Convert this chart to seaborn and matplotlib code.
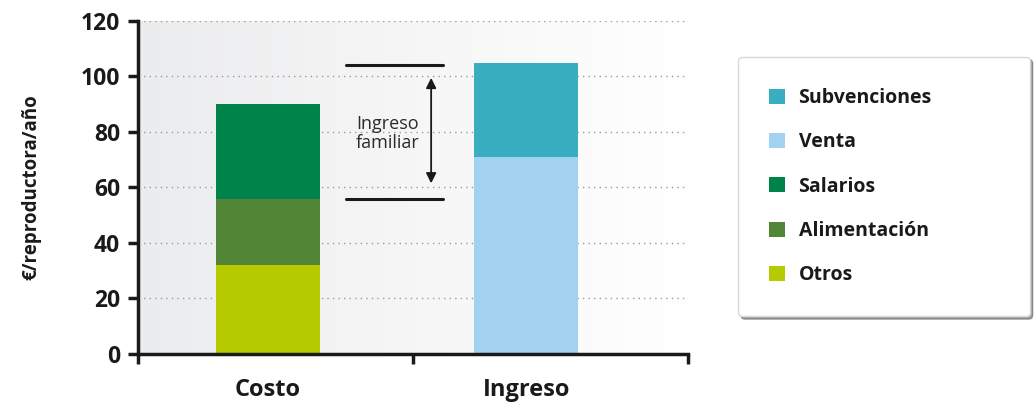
import numpy as np
import pandas as pd
import matplotlib.pyplot as plt
import seaborn as sns
from matplotlib.colors import LinearSegmentedColormap
from matplotlib.patches import Patch

# data
categories = ["Costo", "Ingreso"]
costo_labels = ["Otros", "Alimentación", "Salarios"]
costo_values = [32, 24, 34]
ingreso_labels = ["Venta", "Subvenciones"]
ingreso_values = [71, 34]
familiar_low = 56
familiar_high = 104
y_ticks = [0, 20, 40, 60, 80, 100, 120]

colors = {"Otros": "#b5cb00", "Alimentación": "#528636", "Salarios": "#00834a",
          "Venta": "#a3d2f1", "Subvenciones": "#38aec0"}
legend_order = ["Subvenciones", "Venta", "Salarios", "Alimentación", "Otros"]

sns.set_style("white")
plt.rcParams["font.family"] = ["Open Sans", "DejaVu Sans"]

fig = plt.figure(figsize=(10.34, 4.09), dpi=100)
ax = fig.add_axes([0.1335, 0.1345, 0.532, 0.8142])

xmin, xmax = -0.504, 1.628

# light grey-to-white background
bg = LinearSegmentedColormap.from_list("bg", ["#ebecee", "#f6f6f6", "#ffffff"])
ax.imshow(np.linspace(0, 1, 256)[None, :], cmap=bg, aspect="auto",
          extent=[xmin, xmax, 0, 120], zorder=0)

for yv in y_ticks[1:]:
    ax.axhline(yv, color="#9a9a9a", lw=1, ls=(0, (1, 3)), zorder=1)

# stacked bars drawn as cumulative layers, tallest first
stacks = [("Costo", costo_labels, costo_values), ("Ingreso", ingreso_labels, ingreso_values)]
for cat, labs, vals in stacks:
    cum = np.cumsum(vals)
    for lab, top in reversed(list(zip(labs, cum))):
        df = pd.DataFrame({"cat": [cat], "val": [top]})
        sns.barplot(data=df, x="cat", y="val", order=categories, color=colors[lab],
                    saturation=1, width=0.403, linewidth=0, ax=ax, zorder=2)

# ingreso familiar marker
ax.plot([0.302, 0.678], [familiar_high, familiar_high], color="#1a1a1a", lw=2.2, zorder=3)
ax.plot([0.302, 0.678], [familiar_low, familiar_low], color="#1a1a1a", lw=2.2, zorder=3)
ax.annotate("", xy=(0.632, familiar_high - 3.5), xytext=(0.632, familiar_low + 4.5),
            arrowprops=dict(arrowstyle="<|-|>", color="#1a1a1a", lw=1.3,
                            mutation_scale=15), zorder=3)
ax.text(0.465, 79.5, "Ingreso\nfamiliar", ha="center", va="center", fontsize=13,
        color="#2a2a2a", linespacing=1.05, zorder=3)

ax.set_xlim(xmin, xmax)
ax.set_ylim(0, 120)
ax.set_yticks(y_ticks)
ax.set_yticklabels([str(v) for v in y_ticks], fontsize=16.5, fontweight="bold", color="#1a1a1a")
ax.set_xticks([xmin, (xmin + xmax) / 2, xmax])
ax.set_xticklabels(["", "", ""])
for i, c in enumerate(categories):
    ax.text(i, -8.5, c, ha="center", va="top", fontsize=17, fontweight="bold",
            color="#1a1a1a", transform=ax.transData)
ax.set_xlabel("")
ax.set_ylabel("€/reproductora/año", fontsize=13.5, fontweight="bold", color="#1a1a1a")
ax.yaxis.set_label_coords(-0.175, 0.5)

sns.despine(ax=ax)
for s in ["left", "bottom"]:
    ax.spines[s].set_linewidth(2.5)
    ax.spines[s].set_color("#1a1a1a")
    ax.spines[s].set_zorder(4)
ax.tick_params(axis="both", direction="out", length=7, width=2.5, color="#1a1a1a",
               left=True, bottom=True)
ax.tick_params(axis="y", pad=6)

handles = [Patch(facecolor=colors[k], edgecolor="none", label=k) for k in legend_order]
leg = fig.legend(handles=handles, loc="upper left",
                 bbox_to_anchor=(0.714, 0.2225, 0.282, 0.6385), mode="expand",
                 frameon=True, fancybox=True, shadow=True, fontsize=14,
                 handlelength=0.8, handleheight=0.8, handletextpad=0.7,
                 labelspacing=1.25, borderpad=1.6, borderaxespad=0)
leg.get_frame().set_edgecolor("#d8d8d8")
for t in leg.get_texts():
    t.set_fontweight("bold")
    t.set_color("#1a1a1a")

fig.savefig("out.png", dpi=100)
